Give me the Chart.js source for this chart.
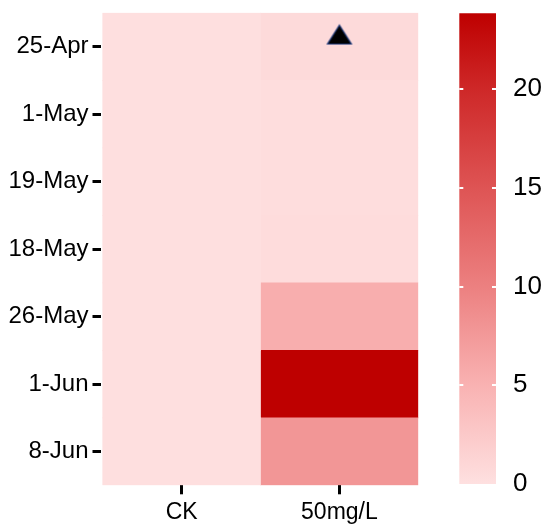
<!DOCTYPE html>
<html>
<head>
<meta charset="utf-8">
<script src="https://cdn.jsdelivr.net/npm/chart.js@4"></script>
<style>
  html, body { margin: 0; padding: 0; background: #fff; }
  #wrap { position: relative; width: 550px; height: 531px; overflow: hidden; }
  #heat { position: absolute; left: 0; top: 0; }
  #bar { position: absolute; left: 440px; top: 0; }
</style>
</head>
<body>
<div id="wrap">
  <canvas id="heat" width="430" height="531"></canvas>
  <canvas id="bar" width="110" height="531"></canvas>
</div>
<script>
// ---- data ----
const dates = ['25-Apr', '1-May', '19-May', '18-May', '26-May', '1-Jun', '8-Jun'];
const groups = ['CK', '50mg/L'];
const ckValues = [0.1, 0.1, 0.1, 0.1, 0.1, 0.1, 0.1];
const treatValues = [0.7, 0.3, 0.3, 0.4, 5.4, 23.8, 7.8];
const colorTicks = [0, 5, 10, 15, 20];
const colorMin = 0;
const colorMax = 23.84;
const markerRows = ['25-Apr'];
const markerGroup = '50mg/L';

// ---- colour palette (value stops -> rgb) ----
const paletteStops = [0, 5, 10, 15, 20, 23.84];
const paletteColors = [
  [254, 224, 224],
  [249, 178, 178],
  [236, 128, 128],
  [222, 84, 84],
  [206, 40, 40],
  [190, 0, 0]
];
function colorFor(v) {
  v = Math.max(paletteStops[0], Math.min(paletteStops[paletteStops.length - 1], v));
  let i = 0;
  while (i < paletteStops.length - 2 && v > paletteStops[i + 1]) i++;
  const t = (v - paletteStops[i]) / (paletteStops[i + 1] - paletteStops[i]);
  const a = paletteColors[i], b = paletteColors[i + 1];
  const c = a.map((x, k) => Math.round(x + (b[k] - x) * t));
  return `rgb(${c[0]},${c[1]},${c[2]})`;
}

const FONT = "'Liberation Sans', Arial, sans-serif";
Chart.defaults.font.family = FONT;
Chart.defaults.color = '#000';

function noPad(s) { s.paddingTop = 0; s.paddingBottom = 0; s.paddingLeft = 0; s.paddingRight = 0; }

// triangle marker image (drawn in upper part of the cell)
const tri = document.createElement('canvas');
tri.width = 30; tri.height = 50;
(function () {
  const c = tri.getContext('2d');
  c.beginPath();
  c.moveTo(15, 3.5);
  c.lineTo(27, 22.5);
  c.lineTo(3, 22.5);
  c.closePath();
  c.fillStyle = '#000';
  c.fill();
  c.lineWidth = 1.2;
  c.strokeStyle = '#1f3a7a';
  c.stroke();
})();

const seriesValues = [ckValues, treatValues];
const heatDatasets = groups.map((g, j) => ({
  label: g,
  data: seriesValues[j].map(() => [j, j + 1]),
  backgroundColor: seriesValues[j].map(colorFor),
  borderWidth: 0,
  barPercentage: 1,
  categoryPercentage: 1,
  grouped: false,
  order: 2
}));
heatDatasets.push({
  type: 'scatter',
  label: 'marker',
  data: markerRows.map(r => ({ x: groups.indexOf(markerGroup) + 0.5, y: r })),
  pointStyle: tri,
  showLine: false,
  order: 0
});

new Chart(document.getElementById('heat'), {
  type: 'bar',
  data: { labels: dates, datasets: heatDatasets },
  options: {
    indexAxis: 'y',
    responsive: false,
    devicePixelRatio: 1,
    animation: false,
    layout: { padding: { left: 0, top: 12.8, right: 11.7, bottom: 0 } },
    plugins: { legend: { display: false }, tooltip: { enabled: false } },
    scales: {
      x: {
        type: 'linear',
        min: -0.014,
        max: 2,
        afterBuildTicks: s => { s.ticks = groups.map((g, j) => ({ value: j + 0.5 })); },
        afterFit: s => { s.height = 45.7; noPad(s); },
        ticks: {
          callback: (v, i) => groups[i],
          font: { size: 23 },
          color: '#000',
          padding: 5,
          maxRotation: 0
        },
        grid: { drawOnChartArea: false, tickLength: 9, tickWidth: 3, tickColor: '#000' },
        border: { display: false }
      },
      y: {
        type: 'category',
        afterFit: s => { s.width = 100.5; noPad(s); },
        ticks: { font: { size: 24 }, color: '#000', padding: 4 },
        grid: { drawOnChartArea: false, tickLength: 8, tickWidth: 3, tickColor: '#000', offset: false },
        border: { display: false }
      }
    }
  }
});

// ---- colour bar ----
const tickMarks = {
  id: 'tickMarks',
  afterDatasetsDraw(chart) {
    const s = chart.scales.y, a = chart.chartArea, c = chart.ctx;
    c.save();
    c.strokeStyle = '#fff';
    c.lineWidth = 2;
    colorTicks.forEach(v => {
      if (v <= colorMin) return;
      const y = Math.round(s.getPixelForValue(v));
      c.beginPath();
      c.moveTo(a.left, y); c.lineTo(a.left + 4, y);
      c.moveTo(a.right - 4, y); c.lineTo(a.right, y);
      c.stroke();
    });
    c.restore();
  }
};

new Chart(document.getElementById('bar'), {
  type: 'bar',
  data: {
    labels: ['scale'],
    datasets: [{
      data: [[colorMin, colorMax]],
      backgroundColor: ctx => {
        const a = ctx.chart.chartArea;
        if (!a) return colorFor(colorMin);
        const g = ctx.chart.ctx.createLinearGradient(0, a.bottom, 0, a.top);
        paletteStops.forEach(v => g.addColorStop((v - colorMin) / (colorMax - colorMin), colorFor(v)));
        return g;
      },
      borderWidth: 0,
      barPercentage: 1,
      categoryPercentage: 1
    }]
  },
  options: {
    responsive: false,
    devicePixelRatio: 1,
    animation: false,
    layout: { padding: { left: 19.3, top: 13.3, right: 0, bottom: 47 } },
    plugins: { legend: { display: false }, tooltip: { enabled: false } },
    scales: {
      x: { display: false },
      y: {
        position: 'right',
        min: colorMin,
        max: colorMax,
        afterBuildTicks: s => { s.ticks = colorTicks.map(v => ({ value: v })); },
        afterFit: s => { s.width = 54; noPad(s); },
        ticks: { font: { size: 26 }, color: '#000', padding: 9 },
        grid: { display: false },
        border: { display: false }
      }
    }
  },
  plugins: [tickMarks]
});
</script>
</body>
</html>
